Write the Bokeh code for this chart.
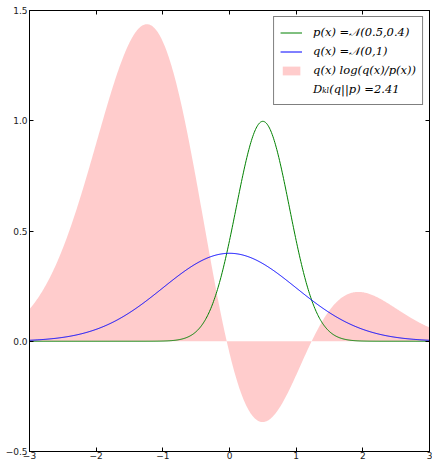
import numpy as np
from bokeh.plotting import figure
from bokeh.models import Range1d, LinearAxis, FixedTicker, Legend, LegendItem
from bokeh.embed import file_html
from bokeh.resources import INLINE

# Distribution parameters as given in the chart legend
MU_P, SIGMA_P = 0.5, 0.4
MU_Q, SIGMA_Q = 0.0, 1.0
D_KL_TEXT = "2.41"

X_MIN, X_MAX = -3.0, 3.0
Y_MIN, Y_MAX = -0.5, 1.5
x_ticks = [-3, -2, -1, 0, 1, 2, 3]
x_tick_labels = ["−3", "−2", "−1", "0", "1", "2", "3"]
y_ticks = [-0.5, 0.0, 0.5, 1.0, 1.5]
y_tick_labels = ["−0.5", "0.0", "0.5", "1.0", "1.5"]
legend_labels = [
    "p(x) =𝒩(0.5,0.4)",
    "q(x) =𝒩(0,1)",
    "q(x) log(q(x)/p(x))",
    "Dₖₗ(q||p) =" + D_KL_TEXT,
]

x = np.linspace(X_MIN, X_MAX, 601)


def normal_pdf(v, mu, s):
    return np.exp(-((v - mu) ** 2) / (2 * s * s)) / (s * np.sqrt(2 * np.pi))


p_vals = normal_pdf(x, MU_P, SIGMA_P)
q_vals = normal_pdf(x, MU_Q, SIGMA_Q)
kl_vals = q_vals * np.log(q_vals / p_vals)

p = figure(width=432, height=461, x_range=Range1d(X_MIN, X_MAX), y_range=Range1d(Y_MIN, Y_MAX),
           output_backend="svg", toolbar_location=None,
           min_border_left=29, min_border_right=3, min_border_top=10, min_border_bottom=0)
p.xgrid.visible = False
p.ygrid.visible = False
p.outline_line_color = "black"
p.background_fill_color = "white"

fill_r = p.varea(x=x, y1=np.zeros_like(x), y2=kl_vals, fill_color="red", fill_alpha=0.2)
p_r = p.line(x, p_vals, line_color="#008000", line_width=1)
q_r = p.line(x, q_vals, line_color="#0000ff", line_width=1)
blank_r = p.line([0], [0], line_alpha=0)

for ax, ticks, labels in ((p.xaxis[0], x_ticks, x_tick_labels), (p.yaxis[0], y_ticks, y_tick_labels)):
    ax.ticker = FixedTicker(ticks=ticks)
    ax.major_label_overrides = {t: l for t, l in zip(ticks, labels)}
    ax.major_tick_in = 4
    ax.major_tick_out = 0
    ax.minor_tick_line_color = None
    ax.axis_line_color = "black"
    ax.major_tick_line_color = "black"
    ax.major_label_text_font = "DejaVu Sans"
    ax.major_label_text_font_size = "9px"
    ax.major_label_text_color = "#222222"
    ax.major_label_standoff = 2

p.xaxis[0].major_label_standoff = 0

top = LinearAxis(ticker=FixedTicker(ticks=x_ticks), major_tick_in=4, major_tick_out=0,
                 minor_tick_line_color=None, major_label_text_font_size="0px", major_label_standoff=0,
                 axis_line_color="black")
right = LinearAxis(ticker=FixedTicker(ticks=y_ticks), major_tick_in=4, major_tick_out=0,
                   minor_tick_line_color=None, major_label_text_font_size="0px", major_label_standoff=0,
                   axis_line_color="black")
top.major_label_overrides = {t: "" for t in x_ticks}
right.major_label_overrides = {t: "" for t in y_ticks}
p.add_layout(top, "above")
p.add_layout(right, "right")

legend = Legend(items=[
    LegendItem(label=legend_labels[0], renderers=[p_r]),
    LegendItem(label=legend_labels[1], renderers=[q_r]),
    LegendItem(label=legend_labels[2], renderers=[fill_r]),
    LegendItem(label=legend_labels[3], renderers=[blank_r]),
], location="top_right")
legend.margin = 6
legend.padding = 6
legend.spacing = 1
legend.glyph_width = 22
legend.glyph_height = 11
legend.label_height = 18
legend.label_standoff = 11
legend.border_line_color = "black"
legend.border_line_width = 1
legend.background_fill_color = "white"
legend.background_fill_alpha = 1
legend.label_text_font = "DejaVu Serif"
legend.label_text_font_style = "italic"
legend.label_text_font_size = "11.5px"
legend.label_text_color = "black"
p.add_layout(legend)

open("out.html", "w").write(file_html(p, INLINE))
